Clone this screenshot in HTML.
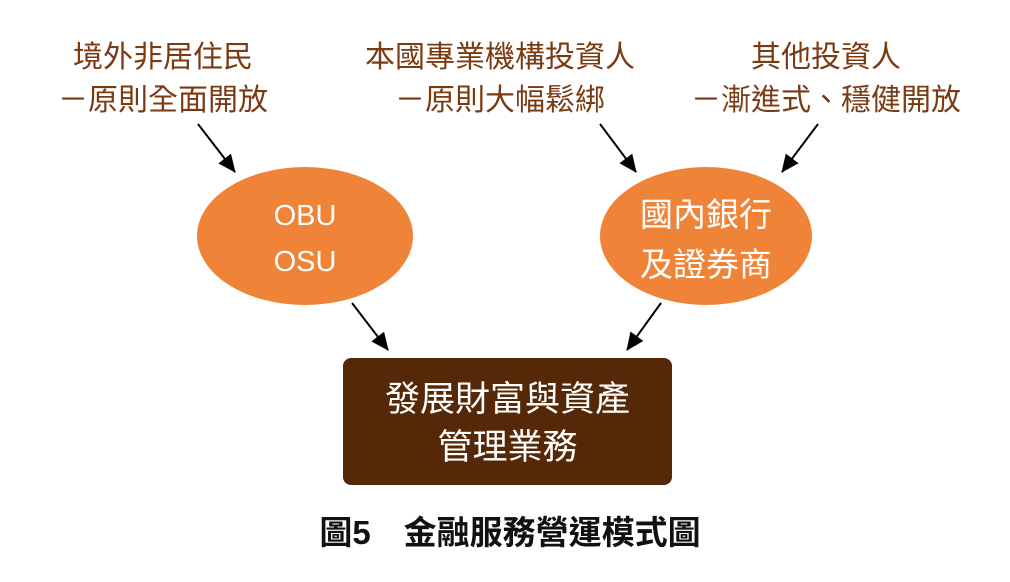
<!DOCTYPE html>
<html><head><meta charset="utf-8"><style>
body{margin:0;width:1010px;height:582px;background:#fff;position:relative;overflow:hidden;font-family:"Liberation Sans","Noto Sans CJK TC",sans-serif}
.t{position:absolute;color:#7a3a12;font-size:30px;line-height:43px;text-align:center;white-space:nowrap}
.w{position:absolute;color:#fff;text-align:center;white-space:nowrap}
</style></head><body>
<svg width="1010" height="582" style="position:absolute;left:0;top:0">
<defs><marker id="a" markerWidth="18" markerHeight="16" refX="17" refY="8" orient="auto" markerUnits="userSpaceOnUse" viewBox="0 0 18 16"><path d="M0,0 L18,8 L0,16 z" fill="#000"/></marker></defs>
<g stroke="#000" stroke-width="2">
<line x1="198" y1="124" x2="235" y2="172" marker-end="url(#a)"/>
<line x1="600" y1="124" x2="636" y2="172" marker-end="url(#a)"/>
<line x1="818" y1="124" x2="782" y2="172" marker-end="url(#a)"/>
<line x1="352" y1="303" x2="388" y2="350" marker-end="url(#a)"/>
<line x1="661" y1="303" x2="627" y2="350" marker-end="url(#a)"/>
</g>
<ellipse cx="305" cy="236" rx="108" ry="69" fill="#ef8438"/>
<ellipse cx="706" cy="236" rx="106" ry="69" fill="#ef8438"/>
<rect x="343" y="358" width="329" height="127" rx="8" fill="#552808"/>
</svg>
<div class="t" style="left:23px;width:280px;top:36px">境外非居住民<br>－原則全面開放</div>
<div class="t" style="left:330px;width:340px;top:36px">本國專業機構投資人<br>－原則大幅鬆綁</div>
<div class="t" style="left:666px;width:320px;top:36px">其他投資人<br>－漸進式、穩健開放</div>
<div class="w" style="left:205px;width:200px;top:193px;font-size:29px;line-height:46px">OBU<br>OSU</div>
<div class="w" style="left:606px;width:200px;top:190px;font-size:33px;line-height:50px">國內銀行<br>及證券商</div>
<div class="w" style="left:343px;width:329px;top:376px;font-size:35px;line-height:48px">發展財富與資產<br>管理業務</div>
<div style="position:absolute;left:260px;width:500px;top:506px;text-align:center;font-size:33px;font-weight:bold;color:#111;white-space:nowrap">圖5　金融服務營運模式圖</div>
</body></html>
